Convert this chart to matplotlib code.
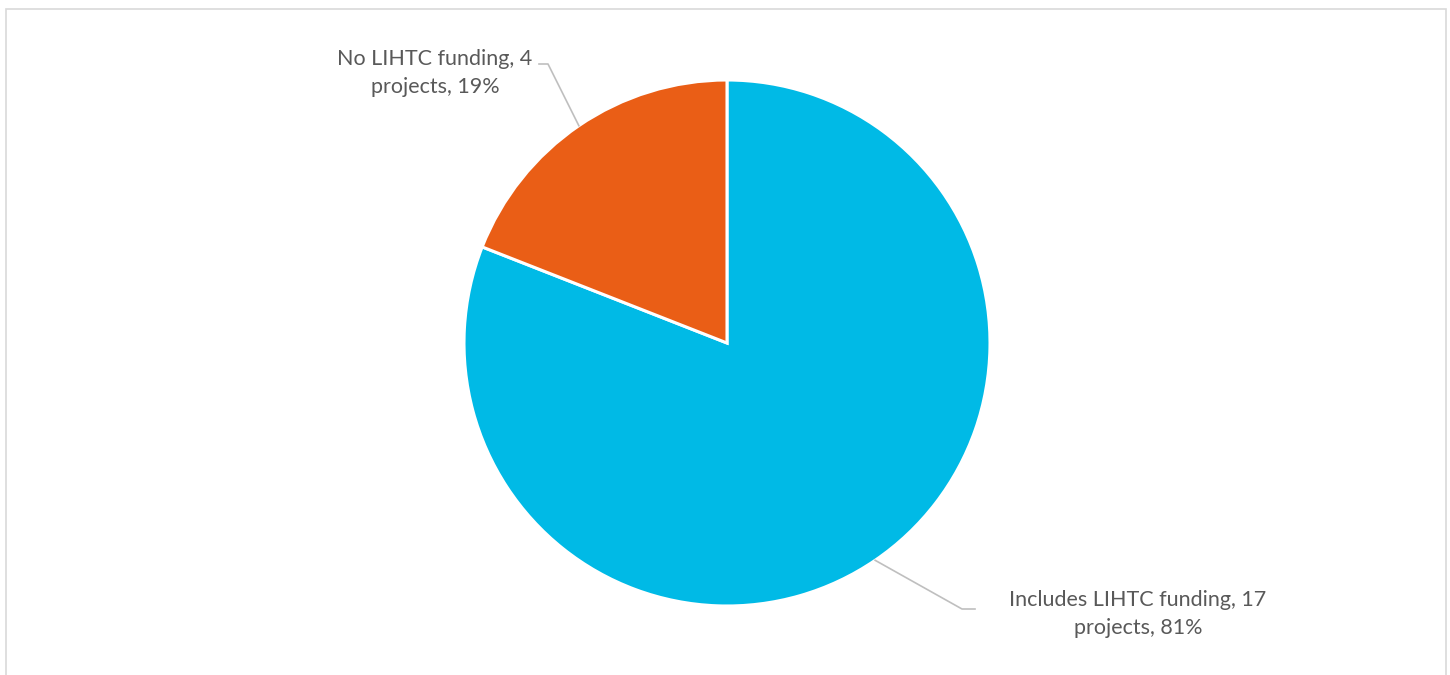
import numpy as np
import matplotlib.pyplot as plt

# data
labels = ['Includes LIHTC funding, 17\nprojects, 81%', 'No LIHTC funding, 4\nprojects, 19%']
counts = [17, 4]
colors = ['#00BAE6', '#EA5E16']

W, H = 1450, 675
fig = plt.figure(figsize=(W / 100, H / 100), dpi=100)
ax = fig.add_axes([0, 0, 1, 1])
ax.set_xlim(0, W)
ax.set_ylim(0, H)
ax.axis('off')

# chart area border (bottom runs off the image)
ax.add_patch(plt.Rectangle((6.5, -10), 1440, H - 8.5 + 10, fill=False,
                           edgecolor='#D9D9D9', linewidth=1.2))

cx, cy, r = 727, H - 343, 263
wedges, _ = ax.pie(counts, colors=colors, startangle=90, counterclock=False,
                   center=(cx, cy), radius=r,
                   wedgeprops=dict(edgecolor='white', linewidth=2.2))
ax.set_aspect('equal')
ax.set_xlim(0, W)
ax.set_ylim(0, H)

# leader lines from wedge mid-angle to labels
text_style = dict(fontsize=15.5, color='#595959', family=['Lato', 'DejaVu Sans'],
                  ha='center', va='center', linespacing=1.5)
# (label center, elbow, end of horizontal piece)
label_pos = [((1138, H - 614), (962, H - 609), (975, H - 609)),
             ((435, H - 73), (548, H - 64), (539, H - 64))]
for w, lab, (tpos, elbow, end) in zip(wedges, labels, label_pos):
    ang = np.deg2rad((w.theta1 + w.theta2) / 2)
    sx, sy = cx + r * np.cos(ang), cy + r * np.sin(ang)
    ax.plot([sx, elbow[0], end[0]], [sy, elbow[1], end[1]],
            color='#BFBFBF', linewidth=1.2, zorder=1)
    ax.text(tpos[0], tpos[1], lab, **text_style)

fig.savefig('out.png', dpi=100)
